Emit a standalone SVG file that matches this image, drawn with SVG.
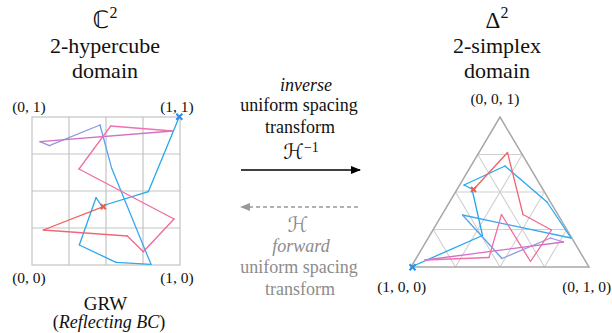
<svg xmlns="http://www.w3.org/2000/svg" width="612" height="333" viewBox="0 0 612 333">
<defs>
<style>
text{font-family:"Liberation Serif",serif}
.t{fill:#111;text-anchor:middle}
.title{font-size:22px}
.lab{font-size:15.5px}
.mid{font-size:18px}
.g{fill:#8c8c8c}
.it{font-style:italic}
.sym{font-family:"DejaVu Sans",sans-serif}
.grid{stroke:#c4c4c4;stroke-width:1.2;fill:none}
.tgrid{stroke:#d0d0d0;stroke-width:1.1;fill:none}
.tout{stroke:#a8a8a8;stroke-width:1.5;fill:none}
.seg{fill:none;stroke-width:1.3;stroke-linecap:round;stroke-linejoin:round}
.xb{stroke:#2a8ee8;stroke-width:2;fill:none}
.xr{stroke:#f05a50;stroke-width:2;fill:none}
</style>
<marker id="ah" viewBox="0 0 10 10" refX="9" refY="5" markerWidth="10" markerHeight="10" markerUnits="userSpaceOnUse" orient="auto">
<path d="M0,1 L10,5 L0,9 Z" fill="#000"/>
</marker>
<marker id="ahg" viewBox="0 0 10 10" refX="9" refY="5" markerWidth="10" markerHeight="10" markerUnits="userSpaceOnUse" orient="auto">
<path d="M0,1 L10,5 L0,9 Z" fill="#999"/>
</marker>
</defs>
<rect width="612" height="333" fill="#fff"/>

<g id="hypercube">
<text class="t title" x="105" y="28"><tspan class="sym" style="font-size:24px">ℂ</tspan><tspan style="font-size:16px" dy="-10">2</tspan></text>
<text class="t title" x="105" y="53">2-hypercube</text>
<text class="t title" x="105" y="78">domain</text>
<text class="t lab" x="29" y="112">(0, 1)</text>
<text class="t lab" x="177" y="112">(1, 1)</text>
<text class="t lab" x="29" y="283">(0, 0)</text>
<text class="t lab" x="177" y="283">(1, 0)</text>
<text class="t" style="font-size:19px" x="105.5" y="310">GRW</text>
<text class="t" style="font-size:18px" x="109" y="328">(<tspan class="it">Reflecting BC</tspan>)</text>
<rect class="grid" x="32" y="117" width="148" height="148"/>
<path class="grid" d="M69,117V265M106,117V265M143,117V265M32,154H180M32,191H180M32,228H180"/>
<g id="cube-walk">
<path class="seg" stroke="#20a8f0" d="M179.3,116.7L148.3,191.7"/>
<path class="seg" stroke="#20a8f0" d="M148.3,191.7L101.7,206"/>
<path class="seg" stroke="#22a8f0" d="M101.7,206L96,197.7"/>
<path class="seg" stroke="#25a8f0" d="M96,197.7L79.3,245"/>
<path class="seg" stroke="#28a8f0" d="M79.3,245L116,262.3"/>
<path class="seg" stroke="#30a8f0" d="M116,262.3L151,264.3"/>
<path class="seg" stroke="#38a8f0" d="M151,264.3L111.7,168.3"/>
<path class="seg" stroke="#58a2ee" d="M111.7,168.3L100,125"/>
<path class="seg" stroke="#9098e0" d="M100,125L49.3,145.7"/>
<path class="seg" stroke="#a888d8" d="M49.3,145.7L40,141.7"/>
<path class="seg" stroke="#d070c8" d="M40,141.7L172.7,131"/>
<path class="seg" stroke="#f070b0" d="M172.7,131L110.7,126"/>
<path class="seg" stroke="#f070a8" d="M110.7,126L79,169"/>
<path class="seg" stroke="#f06ca0" d="M79,169L174,219"/>
<path class="seg" stroke="#f06a98" d="M174,219L143.3,251.7"/>
<path class="seg" stroke="#f06890" d="M143.3,251.7L127.3,236"/>
<path class="seg" stroke="#f06878" d="M127.3,236L43.3,230"/>
<path class="seg" stroke="#f26060" d="M43.3,230L103.3,206.7"/>
<path class="xb" d="M176.3,113.7l6,6M182.3,113.7l-6,6"/>
<path class="xr" d="M100.8,204.2l5,5M105.8,204.2l-5,5"/>
</g>
</g>

<g id="simplex">
<text class="t title" x="497" y="28"><tspan style="font-size:23px">Δ</tspan><tspan style="font-size:16px" dy="-10">2</tspan></text>
<text class="t title" x="497" y="53">2-simplex</text>
<text class="t title" x="497" y="78">domain</text>
<text class="t lab" x="495" y="104">(0, 0, 1)</text>
<text class="t lab" x="401.7" y="292">(1, 0, 0)</text>
<text class="t lab" x="586.7" y="292">(0, 1, 0)</text>
<path class="tgrid" d="M477.75,154.5H522.25M455.5,192H544.5M433.25,229.5H566.75
M455.5,267L522.25,154.5M500,267L544.5,192M544.5,267L566.75,229.5
M544.5,267L477.75,154.5M500,267L455.5,192M455.5,267L433.25,229.5"/>
<path class="tout" d="M500,117L589,267L411,267Z"/>
<g id="simplex-walk">
<path class="seg" stroke="#20a8f0" d="M411,267L482.5,235.5"/>
<path class="seg" stroke="#20a8f0" d="M482.5,235.5L472,189"/>
<path class="seg" stroke="#22a8f0" d="M472,189L464,185"/>
<path class="seg" stroke="#25a8f0" d="M464,185L505,166"/>
<path class="seg" stroke="#28a8f0" d="M505,166L547,202"/>
<path class="seg" stroke="#30a8f0" d="M547,202L571,238"/>
<path class="seg" stroke="#38a8f0" d="M571,238L462.5,215"/>
<path class="seg" stroke="#58a2ee" d="M462.5,215L502,258.5"/>
<path class="seg" stroke="#9098e0" d="M502,258.5L550.5,238"/>
<path class="seg" stroke="#a888d8" d="M550.5,238L563.5,242"/>
<path class="seg" stroke="#d070c8" d="M563.5,242L425,260"/>
<path class="seg" stroke="#f070b0" d="M425,260L489,257.5"/>
<path class="seg" stroke="#f070a8" d="M489,257.5L501.5,214.5"/>
<path class="seg" stroke="#f06ca0" d="M501.5,214.5L530.5,261.5"/>
<path class="seg" stroke="#f06a98" d="M530.5,261.5L551.5,230"/>
<path class="seg" stroke="#f06890" d="M551.5,230L523,214.5"/>
<path class="seg" stroke="#f06878" d="M523,214.5L507.5,152.5"/>
<path class="seg" stroke="#f26060" d="M507.5,152.5L473.5,189.5"/>
<path class="xb" d="M409.5,264.3l6,6M415.5,264.3l-6,6"/>
<path class="xr" d="M471,187l5,5M476,187l-5,5"/>
</g>
</g>

<g id="connectors">
<line x1="241" y1="170" x2="360" y2="170" stroke="#000" stroke-width="1.6" marker-end="url(#ah)"/>
<line x1="358" y1="207" x2="241" y2="207" stroke="#999" stroke-width="1.5" stroke-dasharray="4,3" marker-end="url(#ahg)"/>
<g id="inverse-label">
<text class="t mid it" x="306" y="91">inverse</text>
<text class="t mid" x="299" y="111">uniform spacing</text>
<text class="t mid" x="300" y="133">transform</text>
<text class="t mid" x="301" y="159"><tspan class="sym" style="font-size:21px">ℋ</tspan><tspan style="font-size:14px" dy="-7">−1</tspan></text>
</g>
<g id="forward-label">
<text class="t g sym" style="font-size:21px" x="298" y="232">ℋ</text>
<text class="t mid g it" x="301" y="252">forward</text>
<text class="t mid g" x="299" y="273">uniform spacing</text>
<text class="t mid g" x="300" y="295">transform</text>
</g>
</g>
</svg>
